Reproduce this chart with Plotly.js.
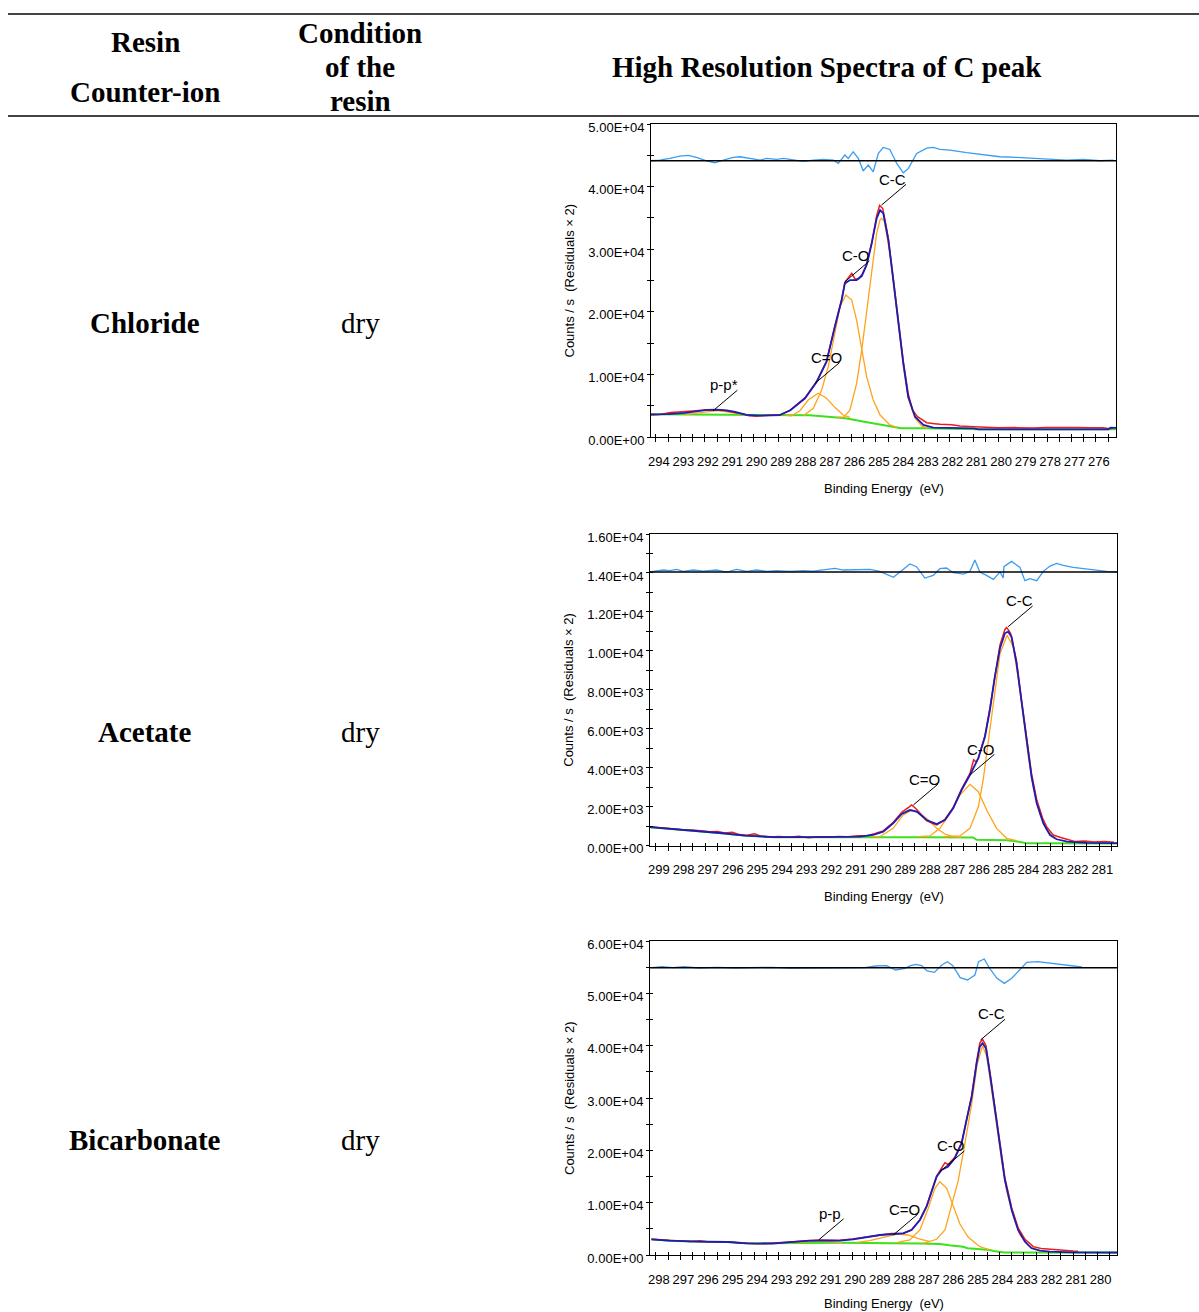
<!DOCTYPE html>
<html><head><meta charset="utf-8">
<script src="https://cdn.plot.ly/plotly-3.0.1.min.js"></script>
<style>html,body{margin:0;padding:0;background:#fff;}#chart{width:1199px;height:1312px;}</style>
</head><body><div id="chart"></div>
<script>
// ---------------- table text ----------------
const headResin = ['Resin', 'Counter-ion'];
const headCond = ['Condition', 'of the', 'resin'];
const headSpectra = 'High Resolution Spectra of C peak';
const rowNames = ['Chloride', 'Acetate', 'Bicarbonate'];
const rowCond = ['dry', 'dry', 'dry'];

// ---------------- chart 1 : Chloride ----------------
const c1_xlabels = ['294','293','292','291','290','289','288','287','286','285','284','283','282','281','280','279','278','277','276'];
const c1_ylabels = ['0.00E+00','1.00E+04','2.00E+04','3.00E+04','4.00E+04','5.00E+04'];
const c1_env_x = [294.20,293.5,292.8,292.3,291.9,291.5,291.1,290.76,290.3,289.74,288.95,288.5,288.05,287.90,287.42,287.02,286.68,286.40,286.27,286.06,285.79,285.58,285.38,285.17,284.97,284.83,284.70,284.49,284.29,284.09,283.88,283.68,283.40,283.06,282.65,282.0,281.0,280.8,276.0,275.5,275.4,275.18];
const c1_env_y = [3630,3650,3850,4150,4330,4370,4250,4000,3520,3400,3480,4270,5760,6180,8830,12030,17620,21880,24540,25070,25070,25710,27470,30930,34920,36250,35720,31460,25070,18160,11770,6440,3240,1920,1490,1450,1380,1230,1230,1230,1490,1450];
const c1_raw_x = [294.20,293.84,293.4,292.9,292.5,292.0,291.6,291.2,290.8,290.4,290.2,289.9,289.6,289.2,288.9,288.5,288.05,287.9,287.42,287.02,286.68,286.40,286.27,286.10,285.99,285.85,285.70,285.55,285.38,285.17,284.97,284.85,284.72,284.55,284.49,284.29,284.09,283.88,283.68,283.50,283.30,283.15,282.92,282.6,282.38,281.9,281.56,281.0,280.6,280.0,279.3,278.6,278.0,277.4,276.8,276.2,275.7,275.45,275.3];
const c1_raw_y = [3520,3600,3900,4100,4150,4300,4330,4230,4000,3650,3400,3300,3420,3450,3550,4300,5800,6250,8900,12100,17700,22000,24700,25600,26140,25200,25300,26100,27600,31100,35300,37000,36500,33000,31600,25300,18500,12100,6900,4300,3240,2830,2290,2130,2020,1950,1760,1650,1560,1490,1500,1440,1520,1460,1500,1470,1480,1300,1420];
const c1_bg_x = [294.2,292.3,290.3,287.7,286.84,286.24,285.48,284.73,283.97,283.0,281.0,280.8,275.18];
const c1_bg_y = [3630,3560,3520,3470,3200,2990,2450,1920,1390,1390,1300,1230,1230];
const c1_pp_x = [292.8,292.3,291.9,291.5,291.1,290.7,290.3];
const c1_pp_y = [3560,3800,4100,4200,4000,3700,3520];
const c1_dbl_x = [288.7,288.45,288.11,287.77,287.36,287.02,286.68,286.34,286.06];
const c1_dbl_y = [3460,3400,4200,5910,6980,6180,4740,3510,3150];
const c1_co_x = [287.97,287.56,287.22,286.95,286.68,286.47,286.23,285.99,285.79,285.58,285.38,285.11,284.83,284.43,284.15];
const c1_co_y = [3400,4580,7510,11230,16560,20810,22680,21880,18680,13890,9630,5910,3510,1920,1550];
const c1_cc_x = [286.60,286.30,286.06,285.79,285.58,285.38,285.17,284.97,284.83,284.77,284.65,284.43,284.29,284.09,283.88,283.68,283.40,283.13,282.90];
const c1_cc_y = [3150,3200,4310,8580,13890,19750,26670,32530,34700,34920,34400,29300,24800,17900,11500,6200,3000,1750,1420];
const c1_res_x = [294.2,293.84,293.43,293.02,292.68,292.34,291.93,291.59,291.24,290.84,290.56,290.15,289.74,289.47,289.06,288.79,288.38,287.97,287.56,287.15,286.74,286.54,286.27,286.13,285.93,285.72,285.52,285.31,285.11,284.90,284.70,284.43,284.15,283.88,283.67,283.33,282.92,282.65,282.38,281.97,281.29,280.61,279.93,279.24,278.56,277.88,277.20,276.51,275.83,275.29];
const c1_res_y = [44130,44240,44500,44880,44980,44660,44130,43810,44240,44660,44770,44500,44240,44500,44340,44500,44240,44020,44240,44340,44240,43700,45040,44500,45570,44500,42530,43440,42370,45300,46260,45940,43700,42210,42910,45300,46150,46260,45940,45830,45410,45090,44770,44660,44500,44400,44240,44340,44130,44240];
const c1_res_base = 44130;
const c1_peak_names = ['C-C','C-O','C=O','p-p*'];
const c1_peak_x = [284.77,286.27,287.49,291.67];
const c1_peak_y = [37050,24800,8580,4160];

// ---------------- chart 2 : Acetate ----------------
const c2_xlabels = ['299','298','297','296','295','294','293','292','291','290','289','288','287','286','285','284','283','282','281'];
const c2_ylabels = ['0.00E+00','2.00E+03','4.00E+03','6.00E+03','8.00E+03','1.00E+04','1.20E+04','1.40E+04','1.60E+04'];
const c2_env_x = [299.24,298.4,297.35,296.3,295.4,294.2,292.84,291.34,290.72,290.18,289.77,289.37,289.02,288.69,288.41,288.01,287.60,287.27,286.93,286.59,286.25,285.91,285.64,285.44,285.24,285.03,284.83,284.70,284.56,284.36,284.15,283.95,283.75,283.54,283.27,283.00,282.73,282.3,281.5,280.28];
const c2_env_y = [940,855,750,630,510,430,430,430,452,540,710,1140,1620,1820,1740,1310,1100,1310,1910,2850,3620,4480,5590,6960,8670,10130,10900,10980,10720,9360,7300,5250,3530,2170,1140,540,320,200,130,120];
const c2_raw_x = [299.24,299.0,298.7,298.4,298.1,297.8,297.5,297.1,296.8,296.5,296.2,295.9,295.6,295.3,295.0,294.7,294.4,294.0,293.6,293.2,292.8,292.4,292.0,291.6,291.2,290.8,290.4,290.1,289.77,289.37,289.02,288.7,288.62,288.45,288.25,288.01,287.80,287.60,287.27,286.93,286.59,286.25,286.10,286.00,285.91,285.64,285.44,285.24,285.03,284.83,284.76,284.60,284.36,284.15,283.95,283.75,283.54,283.30,283.14,282.87,282.6,282.3,282.0,281.6,281.2,280.8,280.4];
const c2_raw_y = [960,930,900,880,840,800,790,740,700,720,640,680,560,530,600,470,440,460,420,480,400,450,420,460,450,500,520,620,750,1180,1700,2000,2080,1900,1600,1280,1150,1060,1330,1950,2900,3700,4400,4300,4500,5650,7050,8750,10300,11100,11200,10900,9500,7400,5400,3700,2350,1400,970,540,420,300,205,230,180,200,170];
const c2_bg_x = [299.24,298.4,297.35,296.3,295.4,294.2,291.34,290.5,290.04,288.0,286.12,285.98,284.76,284.4,283.95,283.0,280.28];
const c2_bg_y = [940,855,750,630,510,430,430,440,420,420,410,290,270,220,120,110,100];
const c2_dbl_x = [290.2,289.91,289.37,288.96,288.62,288.28,287.94,287.60,287.27,286.93,286.6];
const c2_dbl_y = [440,452,880,1570,1820,1650,1310,880,590,450,420];
const c2_co_x = [288.35,287.88,287.47,287.06,286.66,286.25,285.91,285.57,285.17,284.76,284.36];
const c2_co_y = [450,490,880,1650,2590,3140,2760,1820,880,370,250];
const c2_cc_x = [287.33,286.66,286.25,285.91,285.71,285.51,285.31,285.03,284.74,284.49,284.29,284.09,283.88,283.68,283.41,283.14,282.80];
const c2_cc_y = [450,490,880,1990,3400,5300,7300,9850,10800,10200,8600,6650,4600,3000,1600,800,350];
const c2_res_x = [299.24,298.97,298.70,298.43,298.16,297.89,297.48,297.08,296.54,296.13,295.72,295.32,294.91,294.51,294.10,293.56,293.02,292.61,292.21,291.73,291.39,290.85,290.31,289.91,289.64,289.36,289.09,288.96,288.69,288.42,288.08,287.74,287.47,287.20,286.93,286.52,286.25,286.05,285.85,285.58,285.30,285.03,284.90,284.87,284.56,284.22,284.02,283.82,283.54,283.27,283.00,282.73,282.46,282.06,281.65,281.11,280.70,280.28];
const c2_res_y = [14047,14115,14150,14115,14184,14081,14150,14098,14150,14047,14184,14081,14150,14081,14115,14081,14115,14098,14150,14235,14150,14184,14184,14081,13944,13773,14047,14184,14458,14321,13739,13876,14218,14252,14013,13944,14081,14663,14047,13876,13670,14047,13739,14321,14595,14287,13602,13705,13602,14081,14355,14492,14390,14287,14218,14115,14081,14047];
const c2_res_base = 14047;
const c2_peak_names = ['C-C','C-O','C=O'];
const c2_peak_x = [284.70,286.25,288.55];
const c2_peak_y = [11240,3620,2080];

// ---------------- chart 3 : Bicarbonate ----------------
const c3_xlabels = ['298','297','296','295','294','293','292','291','290','289','288','287','286','285','284','283','282','281','280'];
const c3_ylabels = ['0.00E+00','1.00E+04','2.00E+04','3.00E+04','4.00E+04','5.00E+04','6.00E+04'];
const c3_env_x = [298.18,297.46,296.26,295.06,294.31,293.26,292.65,291.75,290.85,290.50,289.96,289.41,288.87,288.33,287.92,287.58,287.24,286.97,286.77,286.56,286.36,286.09,285.82,285.54,285.34,285.13,284.93,284.80,284.69,284.55,284.39,284.18,283.98,283.78,283.50,283.24,282.96,282.69,282.35,281.94,281.0,279.21];
const c3_env_y = [2990,2740,2550,2480,2230,2170,2420,2740,2800,2740,3000,3380,3820,4010,4140,4780,6690,9230,12100,14960,16240,16880,18480,21350,25800,30250,36630,39810,40460,39500,34720,27710,20700,14330,8600,4780,2550,1280,820,630,500,480];
const c3_raw_x = [298.18,297.9,297.5,297.0,296.6,296.2,295.9,295.5,295.0,294.7,294.3,293.9,293.5,293.2,292.8,292.4,292.0,291.6,291.3,290.9,290.5,290.0,289.4,288.9,288.4,287.92,287.58,287.24,286.97,286.77,286.56,286.36,286.22,286.09,285.82,285.54,285.34,285.13,284.93,284.80,284.69,284.55,284.39,284.18,283.98,283.78,283.50,283.24,282.96,282.62,282.3,281.94,281.5,281.0,280.8];
const c3_raw_y = [3000,2950,2800,2650,2600,2700,2550,2500,2550,2350,2250,2150,2200,2300,2450,2600,2700,2750,2850,2750,2800,3050,3450,3900,4100,4150,4850,6750,9350,12200,15100,16600,17640,17300,18700,21500,26000,30500,37000,40500,41220,40000,35000,28000,21000,14800,9000,5200,3000,1590,1250,1090,850,760,740];
const c3_bg_x = [298.18,297.46,296.26,295.06,294.31,293.26,290.50,287.24,286.43,286.05,285.48,285.3,284.39,284.25,283.8,283.44,279.21];
const c3_bg_y = [2990,2740,2550,2480,2230,2230,2350,2200,2100,1850,1590,1300,960,760,500,480,450];
const c3_pp_x = [292.6,292.0,291.5,291.0,290.4];
const c3_pp_y = [2300,2550,2650,2550,2350];
const c3_dbl_x = [289.8,289.28,288.74,288.13,287.72,287.31,286.83];
const c3_dbl_y = [2400,2740,3380,4010,3820,3120,2540];
const c3_co_x = [288.19,287.65,287.24,286.90,286.63,286.43,286.15,285.88,285.61,285.27,284.80,284.39];
const c3_co_y = [2350,2870,4780,8920,12750,14010,12750,9230,5920,3380,1590,960];
const c3_cc_x = [287.11,286.56,286.22,285.95,285.68,285.41,285.13,284.91,284.69,284.52,284.32,284.12,283.91,283.71,283.44,283.17,282.83,282.35];
const c3_cc_y = [2230,3000,4780,9500,14200,21300,28850,36400,40000,38000,31800,25100,18000,12400,7400,3900,1800,800];
const c3_res_x = [298.14,297.76,297.31,296.86,296.26,295.51,294.76,294.01,293.26,292.50,291.75,291.00,290.25,289.50,289.05,288.60,288.23,287.85,287.62,287.40,287.17,286.95,286.65,286.35,286.12,285.90,285.60,285.30,285.00,284.85,284.62,284.40,284.10,283.80,283.50,283.20,282.89,282.44,281.99,281.54,280.94,280.64];
const c3_res_y = [54900,55100,54900,55100,54840,54970,54840,54900,54970,54780,54840,54900,54840,54900,55220,55290,54460,54780,55290,55540,55290,54270,54010,55410,56050,55290,52990,52550,53500,56050,56560,54780,52870,51910,52870,54460,55920,56050,55800,55540,55160,55030];
const c3_res_base = 54900;
const c3_peak_names = ['C-C','C-O','C=O','p-p'];
const c3_peak_x = [284.77,286.43,288.33,291.35];
const c3_peak_y = [41090,15920,3820,2950];

// ---------------- styling / layout ----------------
const SANS = 'Arial, "Liberation Sans", Helvetica, sans-serif';
const SERIF = '"Times New Roman", "Liberation Serif", serif';
const W = 1199, H = 1312;
const PX = p => p / W, PY = p => 1 - p / H;
const COL = {raw:'#ee1c1c', env:'#1c1cb8', bg:'#3ee01c', comp:'#ffa31a', res:'#3c9cf0'};

const charts = [
  {ax:'', tw:'4', box:[651,1116,124,437], range:[294.2,275.18], ymax:50000, xtitleOff:51,
   xl:c1_xlabels, yl:c1_ylabels, env:[c1_env_x,c1_env_y], raw:[c1_raw_x,c1_raw_y], bg:[c1_bg_x,c1_bg_y],
   comps:[[c1_pp_x,c1_pp_y],[c1_dbl_x,c1_dbl_y],[c1_co_x,c1_co_y],[c1_cc_x,c1_cc_y]],
   res:[c1_res_x,c1_res_y], base:c1_res_base, pk:[c1_peak_names,c1_peak_x,c1_peak_y]},
  {ax:'2', tw:'5', box:[650,1117,534,845.5], range:[299.24,280.28], ymax:16000, xtitleOff:51,
   xl:c2_xlabels, yl:c2_ylabels, env:[c2_env_x,c2_env_y], raw:[c2_raw_x,c2_raw_y], bg:[c2_bg_x,c2_bg_y],
   comps:[[c2_dbl_x,c2_dbl_y],[c2_co_x,c2_co_y],[c2_cc_x,c2_cc_y]],
   res:[c2_res_x,c2_res_y], base:c2_res_base, pk:[c2_peak_names,c2_peak_x,c2_peak_y]},
  {ax:'3', tw:'6', box:[650,1117,941,1255], range:[298.24,279.21], ymax:60000, xtitleOff:48,
   xl:c3_xlabels, yl:c3_ylabels, env:[c3_env_x,c3_env_y], raw:[c3_raw_x,c3_raw_y], bg:[c3_bg_x,c3_bg_y],
   comps:[[c3_pp_x,c3_pp_y],[c3_dbl_x,c3_dbl_y],[c3_co_x,c3_co_y],[c3_cc_x,c3_cc_y]],
   res:[c3_res_x,c3_res_y], base:c3_res_base, pk:[c3_peak_names,c3_peak_x,c3_peak_y]}
];

function xTicks(labels){
  const vals=[], txt=[];
  labels.forEach(l=>{ const v=parseFloat(l); vals.push(v); txt.push(l); vals.push(v-0.5); txt.push(''); });
  return {vals, txt};
}
function yTicks(labels){
  const vals=[], txt=[];
  const nums = labels.map(parseFloat);
  nums.forEach((v,i)=>{ vals.push(v); txt.push(labels[i]); if(i<nums.length-1){ vals.push((v+nums[i+1])/2); txt.push(''); } });
  return {vals, txt};
}

const data = [], annotations = [], shapes = [];
const layout = {width:W, height:H, margin:{l:0,r:0,t:0,b:0}, paper_bgcolor:'#fff', plot_bgcolor:'#fff',
  showlegend:false, font:{family:SANS, color:'#000'}};

charts.forEach(c=>{
  const xa='x'+c.ax, ya='y'+c.ax, xt='x'+c.tw, yt='y'+c.tw;
  const xk='xaxis'+c.ax, yk='yaxis'+c.ax;
  const xtk = xTicks(c.xl), ytk = yTicks(c.yl);
  const dx=[PX(c.box[0]),PX(c.box[1])], dy=[PY(c.box[3]),PY(c.box[2])];
  layout[xk] = {domain:dx, range:c.range, autorange:false, anchor:ya, tickmode:'array', tickvals:xtk.vals, ticktext:xtk.txt,
    ticks:'outside', ticklen:4, tickwidth:1, tickcolor:'#000', showline:true, linecolor:'#000', linewidth:1, mirror:true,
    showgrid:false, zeroline:false, tickfont:{family:SANS, size:13, color:'#000'}, ticklabelstandoff:8, ticklabelshift:-3, fixedrange:true};
  layout[yk] = {domain:dy, range:[0,c.ymax], autorange:false, anchor:xa, tickmode:'array', tickvals:ytk.vals, ticktext:ytk.txt,
    ticks:'outside', ticklen:3, tickwidth:1, tickcolor:'#000', showline:true, linecolor:'#000', linewidth:1, mirror:true,
    showgrid:false, zeroline:false, tickfont:{family:SANS, size:13, color:'#000'}, ticklabelshift:3, fixedrange:true};
  layout['xaxis'+c.tw] = {overlaying:xa, anchor:yt, range:c.range, autorange:false, tickmode:'array', tickvals:xtk.vals,
    showticklabels:false, ticks:'inside', ticklen:3, tickwidth:1, tickcolor:'#000', showline:false, showgrid:false, zeroline:false, fixedrange:true};
  layout['yaxis'+c.tw] = {overlaying:ya, anchor:xt, range:[0,c.ymax], autorange:false, tickmode:'array', tickvals:ytk.vals,
    showticklabels:false, ticks:'inside', ticklen:3, tickwidth:1, tickcolor:'#000', showline:false, showgrid:false, zeroline:false, fixedrange:true};
  data.push({type:'scatter', mode:'lines', x:[null], y:[null], xaxis:xt, yaxis:yt, hoverinfo:'skip', showlegend:false});

  const L = (xy,color,w)=>({type:'scatter', mode:'lines', x:xy[0], y:xy[1], xaxis:xa, yaxis:ya,
    line:{color, width:w, shape:'linear'}, hoverinfo:'skip', showlegend:false});
  data.push(L(c.res, COL.res, 1.3));
  data.push(L(c.bg, COL.bg, 2));
  c.comps.forEach(cp=>data.push(L(cp, COL.comp, 1.3)));
  data.push(L(c.raw, COL.raw, 1.5));
  data.push(L(c.env, COL.env, 1.8));

  shapes.push({type:'line', xref:xa+' domain', yref:ya, x0:0, x1:1, y0:c.base, y1:c.base, line:{color:'#000', width:1.5}, layer:'above'});

  // peak labels with leader lines
  c.pk[0].forEach((name,i)=>{
    annotations.push({xref:xa, yref:ya, x:c.pk[1][i], y:c.pk[2][i], text:'', showarrow:true, arrowhead:0, arrowwidth:1,
      arrowcolor:'#000', ax:26, ay:-22, axref:'pixel', ayref:'pixel', standoff:0, startstandoff:0});
    annotations.push({xref:xa, yref:ya, x:c.pk[1][i], y:c.pk[2][i], text:name, showarrow:false, xshift:11, yshift:26,
      font:{family:SANS, size:15, color:'#000'}});
  });

  // axis titles
  annotations.push({xref:'paper', yref:'paper', x:PX((c.box[0]+c.box[1])/2), y:PY(c.box[3]+c.xtitleOff), text:'Binding Energy\u00A0 (eV)',
    showarrow:false, font:{family:SANS, size:13, color:'#000'}, xanchor:'center', yanchor:'middle'});
  annotations.push({xref:'paper', yref:'paper', x:PX(569), y:PY((c.box[2]+c.box[3])/2), text:'Counts / s \u00A0(Residuals \u00D7 2)',
    textangle:-90, showarrow:false, font:{family:SANS, size:13, color:'#000'}, xanchor:'center', yanchor:'middle'});
});

// table header / rows
const T = (text, px, py, bold)=>annotations.push({xref:'paper', yref:'paper', x:PX(px), y:PY(py), text: bold?'<b>'+text+'</b>':text,
  showarrow:false, xanchor:'center', yanchor:'middle', font:{family:SERIF, size:29, color:'#000'}});
T(headResin[0],145,42,true); T(headResin[1],145,92,true);
T(headCond[0],360,33,true); T(headCond[1],360,67,true); T(headCond[2],360,101,true);
T(headSpectra,827,67,true);
const rowY = [323,732,1140];
rowNames.forEach((n,i)=>{ T(n,145,rowY[i],true); T(rowCond[i],360,rowY[i],false); });

shapes.push({type:'line', xref:'paper', yref:'paper', x0:PX(8), x1:1, y0:PY(14), y1:PY(14), line:{color:'#444', width:2}});
shapes.push({type:'line', xref:'paper', yref:'paper', x0:PX(8), x1:1, y0:PY(116), y1:PY(116), line:{color:'#444', width:2}});

layout.annotations = annotations;
layout.shapes = shapes;
Plotly.newPlot('chart', data, layout, {staticPlot:true, displayModeBar:false});
</script></body></html>
